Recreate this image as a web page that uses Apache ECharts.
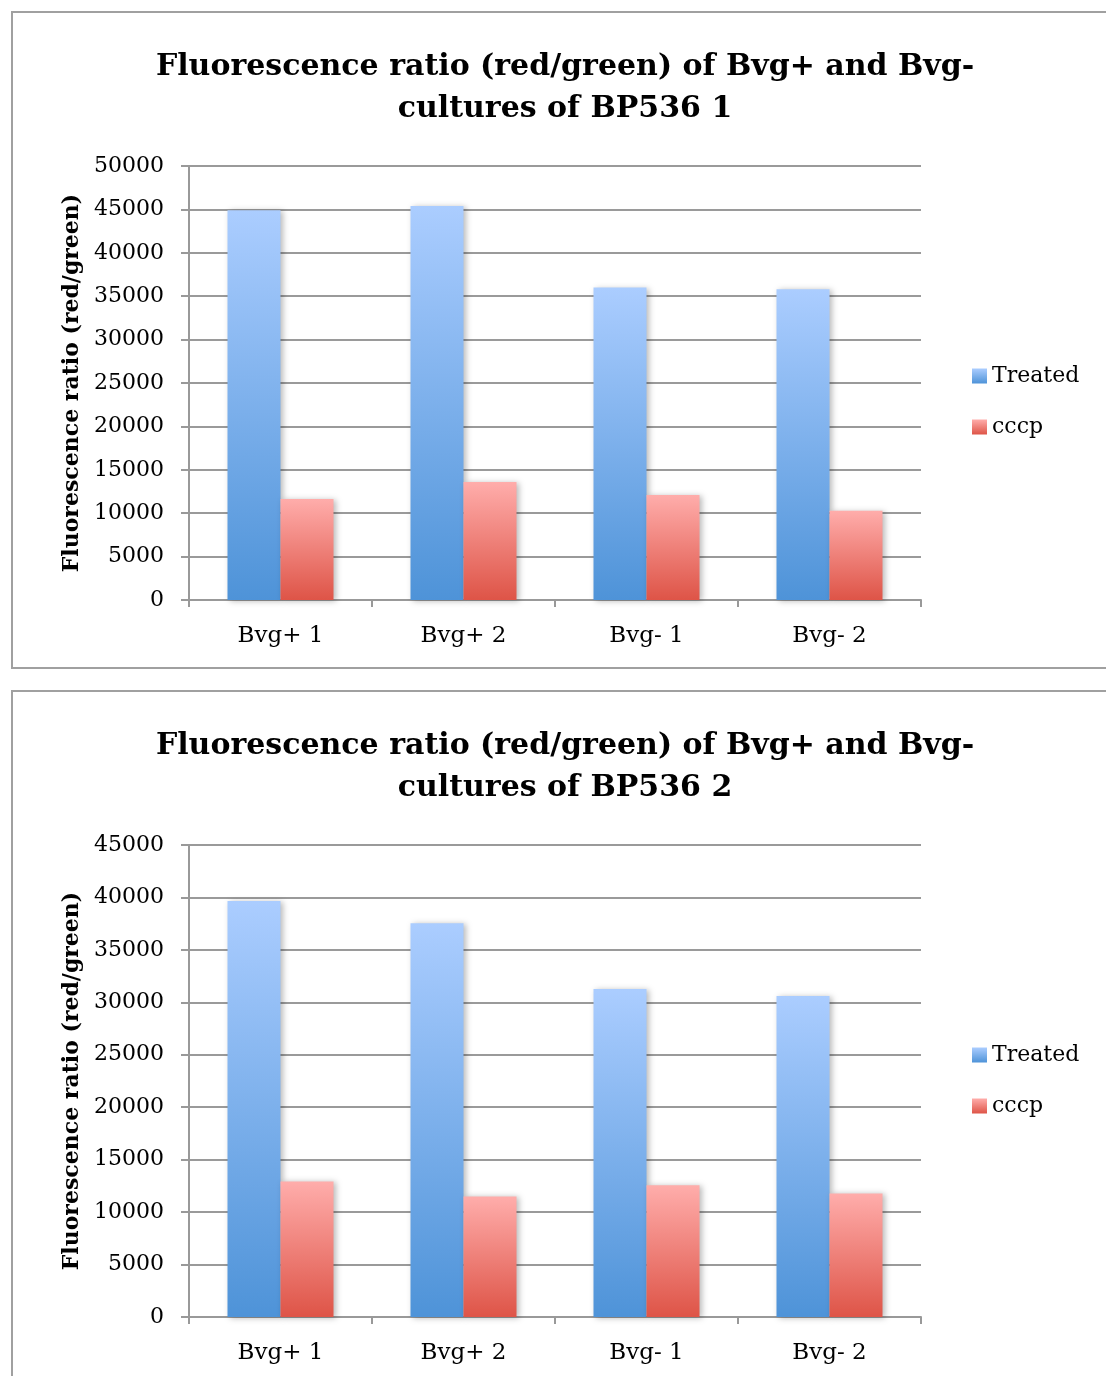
<!DOCTYPE html>
<html>
<head>
<meta charset="utf-8">
<script src="https://cdn.jsdelivr.net/npm/echarts@6/dist/echarts.min.js"></script>
<style>
  html, body { margin: 0; padding: 0; background: #fff; overflow: hidden; }
  body { width: 1106px; height: 1376px; position: relative; }
  .box { position: absolute; left: 11px; width: 1104px; border: 2px solid #a0a0a0; }
</style>
</head>
<body>
<div id="c1" class="box" style="top:11px;height:654px;"></div>
<div id="c2" class="box" style="top:690px;height:720px;"></div>
<script>
// categories and values
const categories = ['Bvg+ 1', 'Bvg+ 2', 'Bvg- 1', 'Bvg- 2']
const seriesNames = ['Treated', 'cccp']

const treated1 = [44900, 45400, 36000, 35800]
const cccp1 = [11650, 13600, 12100, 10270]

const treated2 = [39650, 37550, 31270, 30600]
const cccp2 = [12920, 11500, 12550, 11780]

const font = 'DejaVu Serif'

function grad(top, bottom) {
    return new echarts.graphic.LinearGradient(0, 0, 0, 1, [
        { offset: 0, color: top },
        { offset: 1, color: bottom }
    ])
}

/**
 * draw one boxed bar chart
 */
function drawChart(d, titleName, yMax, plotHeight, treated, cccp) {
    const cs = echarts.init(d, null, { renderer: 'canvas' })
    const barStyle = (top, bottom) => ({
        color: grad(top, bottom),
        shadowBlur: 6,
        shadowColor: 'rgba(0,0,0,0.28)',
        shadowOffsetX: 2,
        shadowOffsetY: 1
    })
    const option = {
        animation: false,
        textStyle: { fontFamily: font },
        title: {
            text: titleName,
            left: 'center',
            top: 28,
            textStyle: {
                fontFamily: font,
                fontWeight: 'bold',
                fontSize: 30,
                lineHeight: 42,
                color: '#000'
            }
        },
        legend: {
            orient: 'vertical',
            left: 959,
            top: 352,
            padding: 0,
            itemWidth: 15,
            itemHeight: 15,
            itemGap: 29,
            icon: 'rect',
            data: seriesNames,
            textStyle: { fontFamily: font, fontSize: 22, color: '#000' }
        },
        grid: {
            left: 176,
            top: 153,
            width: 732,
            height: plotHeight
        },
        xAxis: {
            type: 'category',
            data: categories,
            axisLine: { lineStyle: { color: '#999', width: 2 } },
            axisTick: { show: true, length: 7, lineStyle: { color: '#999', width: 2 } },
            axisLabel: { margin: 25, fontFamily: font, fontSize: 23, color: '#000' }
        },
        yAxis: {
            type: 'value',
            min: 0,
            max: yMax,
            interval: 5000,
            name: 'Fluorescence ratio (red/green)',
            nameLocation: 'middle',
            nameGap: 106,
            nameTextStyle: { fontFamily: font, fontWeight: 'bold', fontSize: 22, color: '#000' },
            axisLine: { show: true, lineStyle: { color: '#999', width: 2 } },
            axisTick: { show: true, length: 8, lineStyle: { color: '#999', width: 2 } },
            axisLabel: {
                margin: 25,
                fontFamily: font,
                fontSize: 22,
                color: '#000',
                formatter: (v) => String(v)
            },
            splitLine: { lineStyle: { color: '#9a9a9a', width: 2 } }
        },
        series: [
            {
                type: 'bar',
                name: 'Treated',
                data: treated,
                barWidth: 53,
                barGap: '0%',
                itemStyle: barStyle('#abcdff', '#4e93d8')
            },
            {
                type: 'bar',
                name: 'cccp',
                data: cccp,
                barWidth: 53,
                barGap: '0%',
                itemStyle: barStyle('#ffadab', '#de5447')
            }
        ]
    }
    cs.setOption(option)
}

drawChart(document.getElementById('c1'),
    'Fluorescence ratio (red/green) of Bvg+ and Bvg-\ncultures of BP536 1', 50000, 434, treated1, cccp1)
drawChart(document.getElementById('c2'),
    'Fluorescence ratio (red/green) of Bvg+ and Bvg-\ncultures of BP536 2', 45000, 472, treated2, cccp2)
</script>
</body>
</html>
